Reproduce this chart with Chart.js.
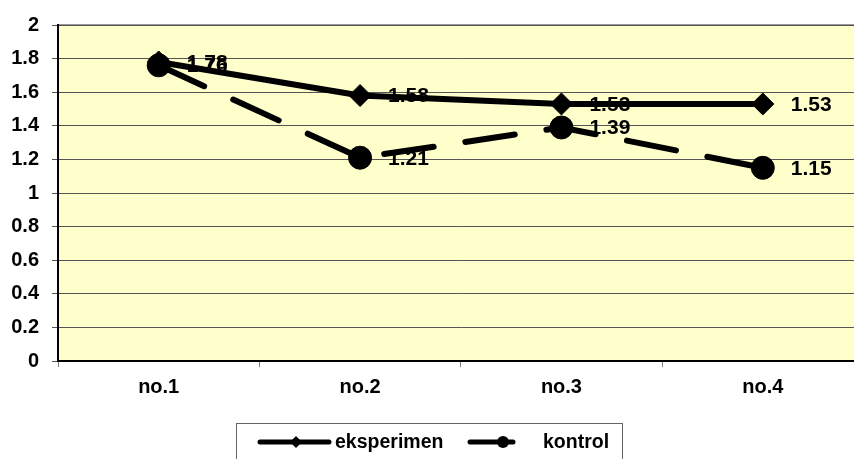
<!DOCTYPE html>
<html><head><meta charset="utf-8">
<script src="https://cdn.jsdelivr.net/npm/chart.js@4/dist/chart.umd.min.js"></script>
<style>
html,body{margin:0;padding:0;background:#fff;overflow:hidden;width:854px;height:459px}
#wrap{position:absolute;left:0;top:0;width:876px;height:459px}
</style></head><body>
<div id="wrap"><canvas id="c" width="876" height="459"></canvas></div>
<script>
const categories = ['no.1', 'no.2', 'no.3', 'no.4'];
const seriesNames = ['eksperimen', 'kontrol'];
const eksperimen = [1.78, 1.58, 1.53, 1.53];
const kontrol = [1.76, 1.21, 1.39, 1.15];
const yTickLabels = ['0', '0.2', '0.4', '0.6', '0.8', '1', '1.2', '1.4', '1.6', '1.8', '2'];

const FONT = "'Liberation Sans', Arial, sans-serif";

const bgPlugin = {
  id: 'bg',
  beforeDraw(chart) {
    const {ctx, chartArea: a} = chart;
    ctx.save();
    ctx.fillStyle = '#FFFFCC';
    ctx.fillRect(a.left, a.top, a.right - a.left, a.bottom - a.top);
    ctx.strokeStyle = '#999999';
    ctx.lineWidth = 2;
    ctx.beginPath();
    ctx.moveTo(a.left, a.top);
    ctx.lineTo(a.right, a.top);
    ctx.stroke();
    ctx.restore();
  }
};

const labelPlugin = {
  id: 'dlabels',
  beforeDatasetsDraw(chart) {
    const ctx = chart.ctx;
    ctx.save();
    ctx.font = 'bold 21px ' + FONT;
    ctx.fillStyle = '#000';
    ctx.textAlign = 'left';
    ctx.textBaseline = 'middle';
    [1, 0].forEach(di => {
      const meta = chart.getDatasetMeta(di);
      const vals = chart.data.datasets[di].data;
      meta.data.forEach((pt, j) => {
        ctx.fillText(vals[j].toFixed(2), pt.x + 28, pt.y + 1);
      });
    });
    ctx.restore();
  }
};

const legendPlugin = {
  id: 'boxlegend',
  afterDraw(chart) {
    const ctx = chart.ctx;
    ctx.save();
    ctx.strokeStyle = '#666';
    ctx.lineWidth = 1;
    ctx.strokeRect(236.5, 423.5, 386, 60);
    const y = 442;
    ctx.strokeStyle = '#000';
    ctx.lineWidth = 5;
    ctx.lineCap = 'round';
    ctx.beginPath(); ctx.moveTo(260, y); ctx.lineTo(329, y); ctx.stroke();
    ctx.fillStyle = '#000';
    ctx.beginPath();
    ctx.moveTo(296, y - 6); ctx.lineTo(302, y); ctx.lineTo(296, y + 6); ctx.lineTo(290, y);
    ctx.closePath(); ctx.fill();
    ctx.beginPath(); ctx.moveTo(470, y); ctx.lineTo(513, y); ctx.stroke();
    ctx.beginPath(); ctx.arc(503, y, 6, 0, Math.PI * 2); ctx.fill();
    ctx.font = 'bold 19.5px ' + FONT;
    ctx.textAlign = 'left';
    ctx.textBaseline = 'middle';
    ctx.fillText(seriesNames[0], 335, y + 1);
    ctx.fillText(seriesNames[1], 543, y + 1);
    ctx.restore();
  }
};

new Chart(document.getElementById('c'), {
  type: 'line',
  data: {
    labels: categories,
    datasets: [
      {
        label: seriesNames[0],
        data: eksperimen,
        borderColor: '#000',
        backgroundColor: '#000',
        borderWidth: 6,
        pointStyle: 'rectRot',
        pointRadius: 11,
        pointBorderWidth: 1,
        pointBackgroundColor: '#000',
        pointBorderColor: '#000',
        tension: 0,
        order: 1
      },
      {
        label: seriesNames[1],
        data: kontrol,
        borderColor: '#000',
        backgroundColor: '#000',
        borderWidth: 6,
        borderDash: [50, 32],
        borderCapStyle: 'round',
        pointStyle: 'circle',
        pointRadius: 11.5,
        pointBorderWidth: 1,
        pointBackgroundColor: '#000',
        pointBorderColor: '#000',
        tension: 0,
        order: 0
      }
    ]
  },
  options: {
    responsive: false,
    animation: false,
    events: [],
    layout: {padding: {top: 22, right: 2, left: 0, bottom: 0}},
    plugins: {legend: {display: false}, tooltip: {enabled: false}},
    scales: {
      x: {
        offset: true,
        grid: {offset: true, drawOnChartArea: false, drawTicks: true, tickLength: 6, color: '#808080'},
        border: {display: true, color: '#000', width: 2},
        ticks: {color: '#000', font: {family: FONT, size: 20, weight: 'bold'}, padding: 8, maxRotation: 0},
        afterFit(s) { s.height = 98; }
      },
      y: {
        min: 0, max: 2,
        ticks: {
          stepSize: 0.2,
          color: '#000',
          font: {family: FONT, size: 20, weight: 'bold'},
          padding: 13,
          callback: (v, i) => yTickLabels[i]
        },
        grid: {color: '#555555', lineWidth: 1, tickLength: 6},
        border: {display: true, color: '#000', width: 2},
        afterFit(s) { s.width = 58; }
      }
    }
  },
  plugins: [bgPlugin, labelPlugin, legendPlugin]
});
</script>
</body></html>
